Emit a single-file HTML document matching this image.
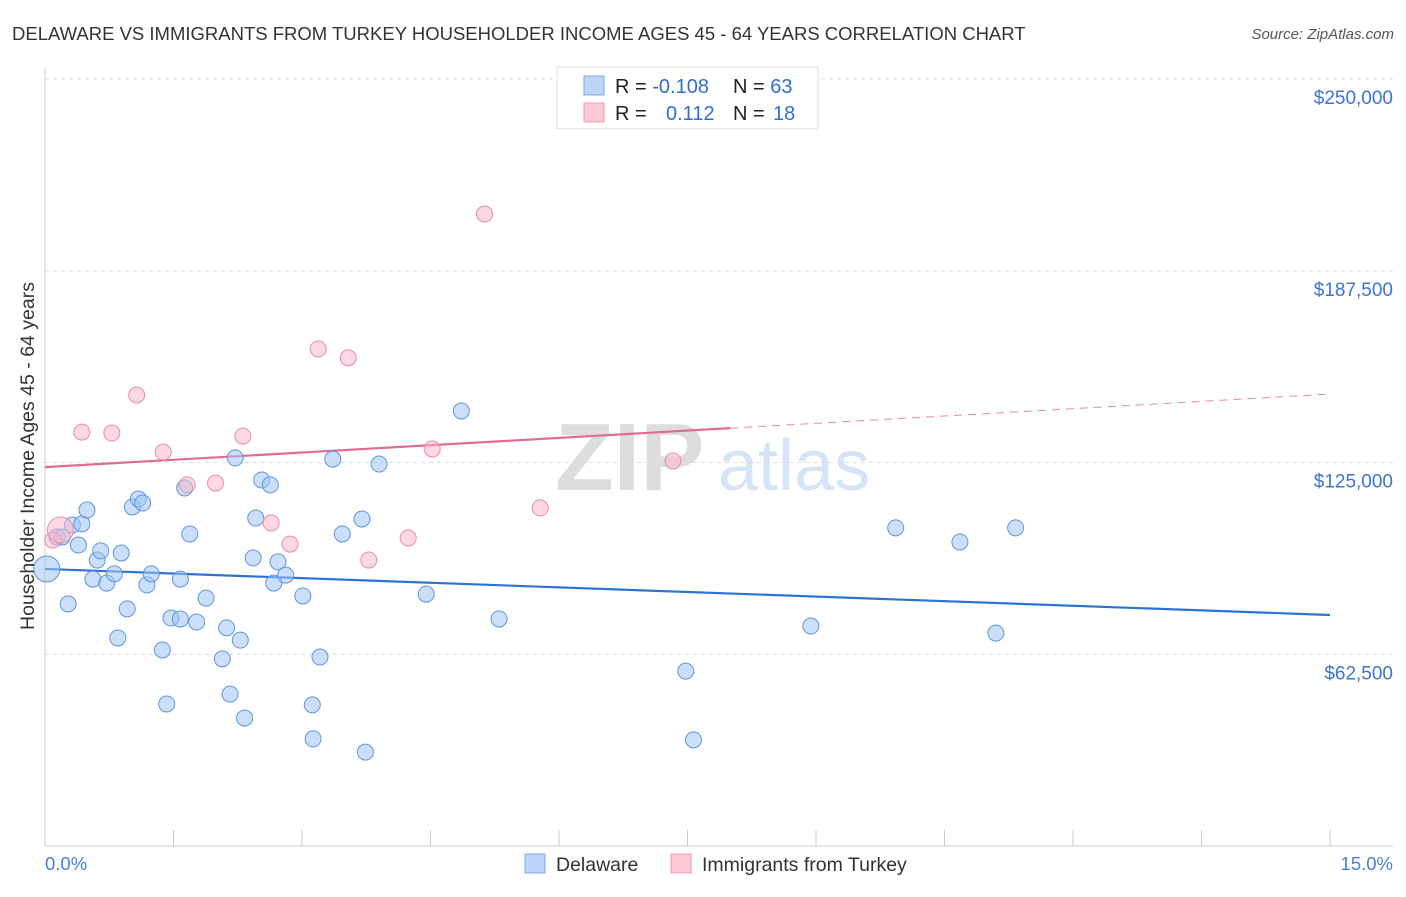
<!DOCTYPE html>
<html><head><meta charset="utf-8"><style>
body{margin:0;background:#fff;font-family:"Liberation Sans",sans-serif;}
svg text{font-family:"Liberation Sans",sans-serif;}
</style></head><body>
<svg id="chart" width="1406" height="892" xmlns="http://www.w3.org/2000/svg">
<text x="12" y="40" font-size="18.5" fill="#333">DELAWARE VS IMMIGRANTS FROM TURKEY HOUSEHOLDER INCOME AGES 45 - 64 YEARS CORRELATION CHART</text>
<text x="1394" y="39" font-size="15" fill="#555" text-anchor="end" font-style="italic">Source: ZipAtlas.com</text>
<g>
<text x="555" y="490" font-size="96" fill="#ddd" font-family="Liberation Serif" font-weight="bold">ZIP</text>
<text x="718" y="490" font-size="72" fill="#d6e4f7">atlas</text>
</g>
<g id="grid"></g><g id="axes"></g><g id="trends"></g><g id="points"></g>
<text transform="translate(34,456) rotate(-90)" font-size="19.5" fill="#333" text-anchor="middle">Householder Income Ages 45 - 64 years</text>
<text x="45" y="870" font-size="18.5" fill="#4a7fd4">0.0%</text>
<text x="1393" y="870" font-size="18.5" fill="#4a7fd4" text-anchor="end">15.0%</text>
<g>
<rect x="557" y="67" width="261" height="62" fill="#fff" stroke="#ddd"/>
<rect x="584" y="76" width="20" height="19" fill="#bcd4f7" stroke="#7eaae8"/>
<rect x="584" y="103" width="20" height="19" fill="#fbc9d6" stroke="#ee9cb4"/>
<text x="615" y="93" font-size="20" fill="#222">R = <tspan fill="#2f6fd0">-0.108</tspan></text>
<text x="733" y="93" font-size="20" fill="#222">N = <tspan fill="#2f6fd0">63</tspan></text>
<text x="615" y="120" font-size="20" fill="#222">R = <tspan fill="#2f6fd0" x="666">0.112</tspan></text>
<text x="733" y="120" font-size="20" fill="#222">N = <tspan fill="#2f6fd0" x="773">18</tspan></text>
</g>
<g>
<rect x="525" y="854" width="20" height="19" fill="#bcd4f7" stroke="#7eaae8"/>
<text x="556" y="871" font-size="19.5" fill="#333">Delaware</text>
<rect x="671" y="854" width="20" height="19" fill="#fbc9d6" stroke="#ee9cb4"/>
<text x="702" y="871" font-size="19.5" fill="#333">Immigrants from Turkey</text>
</g>
</svg>
<script>
const yTicks=[62500,125000,187500,250000];
const yTickLabels=["$62,500","$125,000","$187,500","$250,000"];
const blueX=[0.02,0.14,0.20,0.27,0.32,0.39,0.43,0.49,0.56,0.61,0.65,0.72,0.81,0.85,0.89,0.96,1.02,1.09,1.14,1.19,1.24,1.37,1.42,1.47,1.58,1.58,1.63,1.69,1.77,1.88,2.07,2.12,2.16,2.22,2.28,2.33,2.43,2.46,2.53,2.63,2.67,2.72,2.81,3.01,3.12,3.13,3.21,3.36,3.47,3.70,3.74,3.90,4.45,4.86,5.30,7.48,7.57,8.94,9.93,10.68,11.10,11.33];
const blueY=[90.3,100.7,100.7,78.9,104.6,98.1,105.0,109.5,87.0,93.2,96.2,85.7,88.7,67.8,95.5,77.3,110.5,113.1,111.8,85.1,88.7,63.9,46.3,74.3,74.0,87.0,116.7,101.7,73.0,80.8,61.0,71.1,49.5,126.5,67.1,41.7,93.9,106.9,119.3,117.7,85.7,92.6,88.3,81.5,46.0,34.9,61.6,126.1,101.7,106.6,30.6,124.5,82.1,141.8,74.0,57.0,34.6,71.7,103.7,99.1,69.4,103.7];
const pinkX=[0.09,0.18,0.43,0.78,1.07,1.38,1.66,1.99,2.31,2.64,2.86,3.19,3.54,3.78,4.24,4.52,5.13,5.78,7.33];
const pinkY=[99.7,103.0,134.9,134.6,147.0,128.4,117.7,118.3,133.6,105.3,98.4,162.0,159.1,93.2,100.4,129.4,206.0,110.2,125.5];
const blueTrend=[90.3,75.3];
const pinkTrend=[123.5,147.3];
const pinkSolidEnd=8.0;
const NS="http://www.w3.org/2000/svg";
const xs=v=>45+v/15*1285;
const ys=v=>846-v/250000*767;
const yk=v=>ys(v*1000);
function mk(p,t,a){const e=document.createElementNS(NS,t);for(const k in a)e.setAttribute(k,a[k]);p.appendChild(e);return e;}
const grid=document.getElementById('grid'),axes=document.getElementById('axes'),tr=document.getElementById('trends'),pts=document.getElementById('points');
yTicks.forEach((v,i)=>{
 const l=mk(grid,'line',{x1:45,x2:1393,y1:ys(v),y2:ys(v),stroke:'#ddd','stroke-dasharray':'4,4'});
 
 
 const t=mk(grid,'text',{x:1393,y:ys(v)+25,'font-size':19,fill:'#3b75d0','text-anchor':'end'});
 t.textContent=yTickLabels[i];
 
 
});
const ax=mk(axes,'line',{x1:45,x2:45,y1:68,y2:846,stroke:'#ccc'});


const bx=mk(axes,'line',{x1:45,x2:1393,y1:846,y2:846,stroke:'#ccc'});


for(let i=1;i<=10;i++){const t=mk(axes,'line',{x1:xs(i*1.5),x2:xs(i*1.5),y1:830,y2:846,stroke:'#ccc'});
 
 }
const tb=mk(tr,'line',{x1:xs(0),x2:xs(15),y1:yk(blueTrend[0]),y2:yk(blueTrend[1]),stroke:'#2f72d6','stroke-width':2.2});


const pm=pinkTrend[0]+(pinkTrend[1]-pinkTrend[0])*pinkSolidEnd/15;
const tp=mk(tr,'line',{x1:xs(0),x2:xs(pinkSolidEnd),y1:yk(pinkTrend[0]),y2:yk(pm),stroke:'#e36a94','stroke-width':2.2});


const td=mk(tr,'line',{x1:xs(pinkSolidEnd),x2:xs(15),y1:yk(pm),y2:yk(pinkTrend[1]),stroke:'#e88aa8','stroke-width':1,'stroke-dasharray':'8,6'});


blueX.forEach((x,i)=>{const c=mk(pts,'circle',{cx:xs(x),cy:yk(blueY[i]),r:i==0?13:8,fill:'rgba(160,196,244,0.55)',stroke:'#5f95e0','stroke-width':1});
 
 });
pinkX.forEach((x,i)=>{const c=mk(pts,'circle',{cx:xs(x),cy:yk(pinkY[i]),r:i==1?13:8,fill:'rgba(247,184,203,0.55)',stroke:'#e98cab','stroke-width':1});
 
 });
</script>
</body></html>
